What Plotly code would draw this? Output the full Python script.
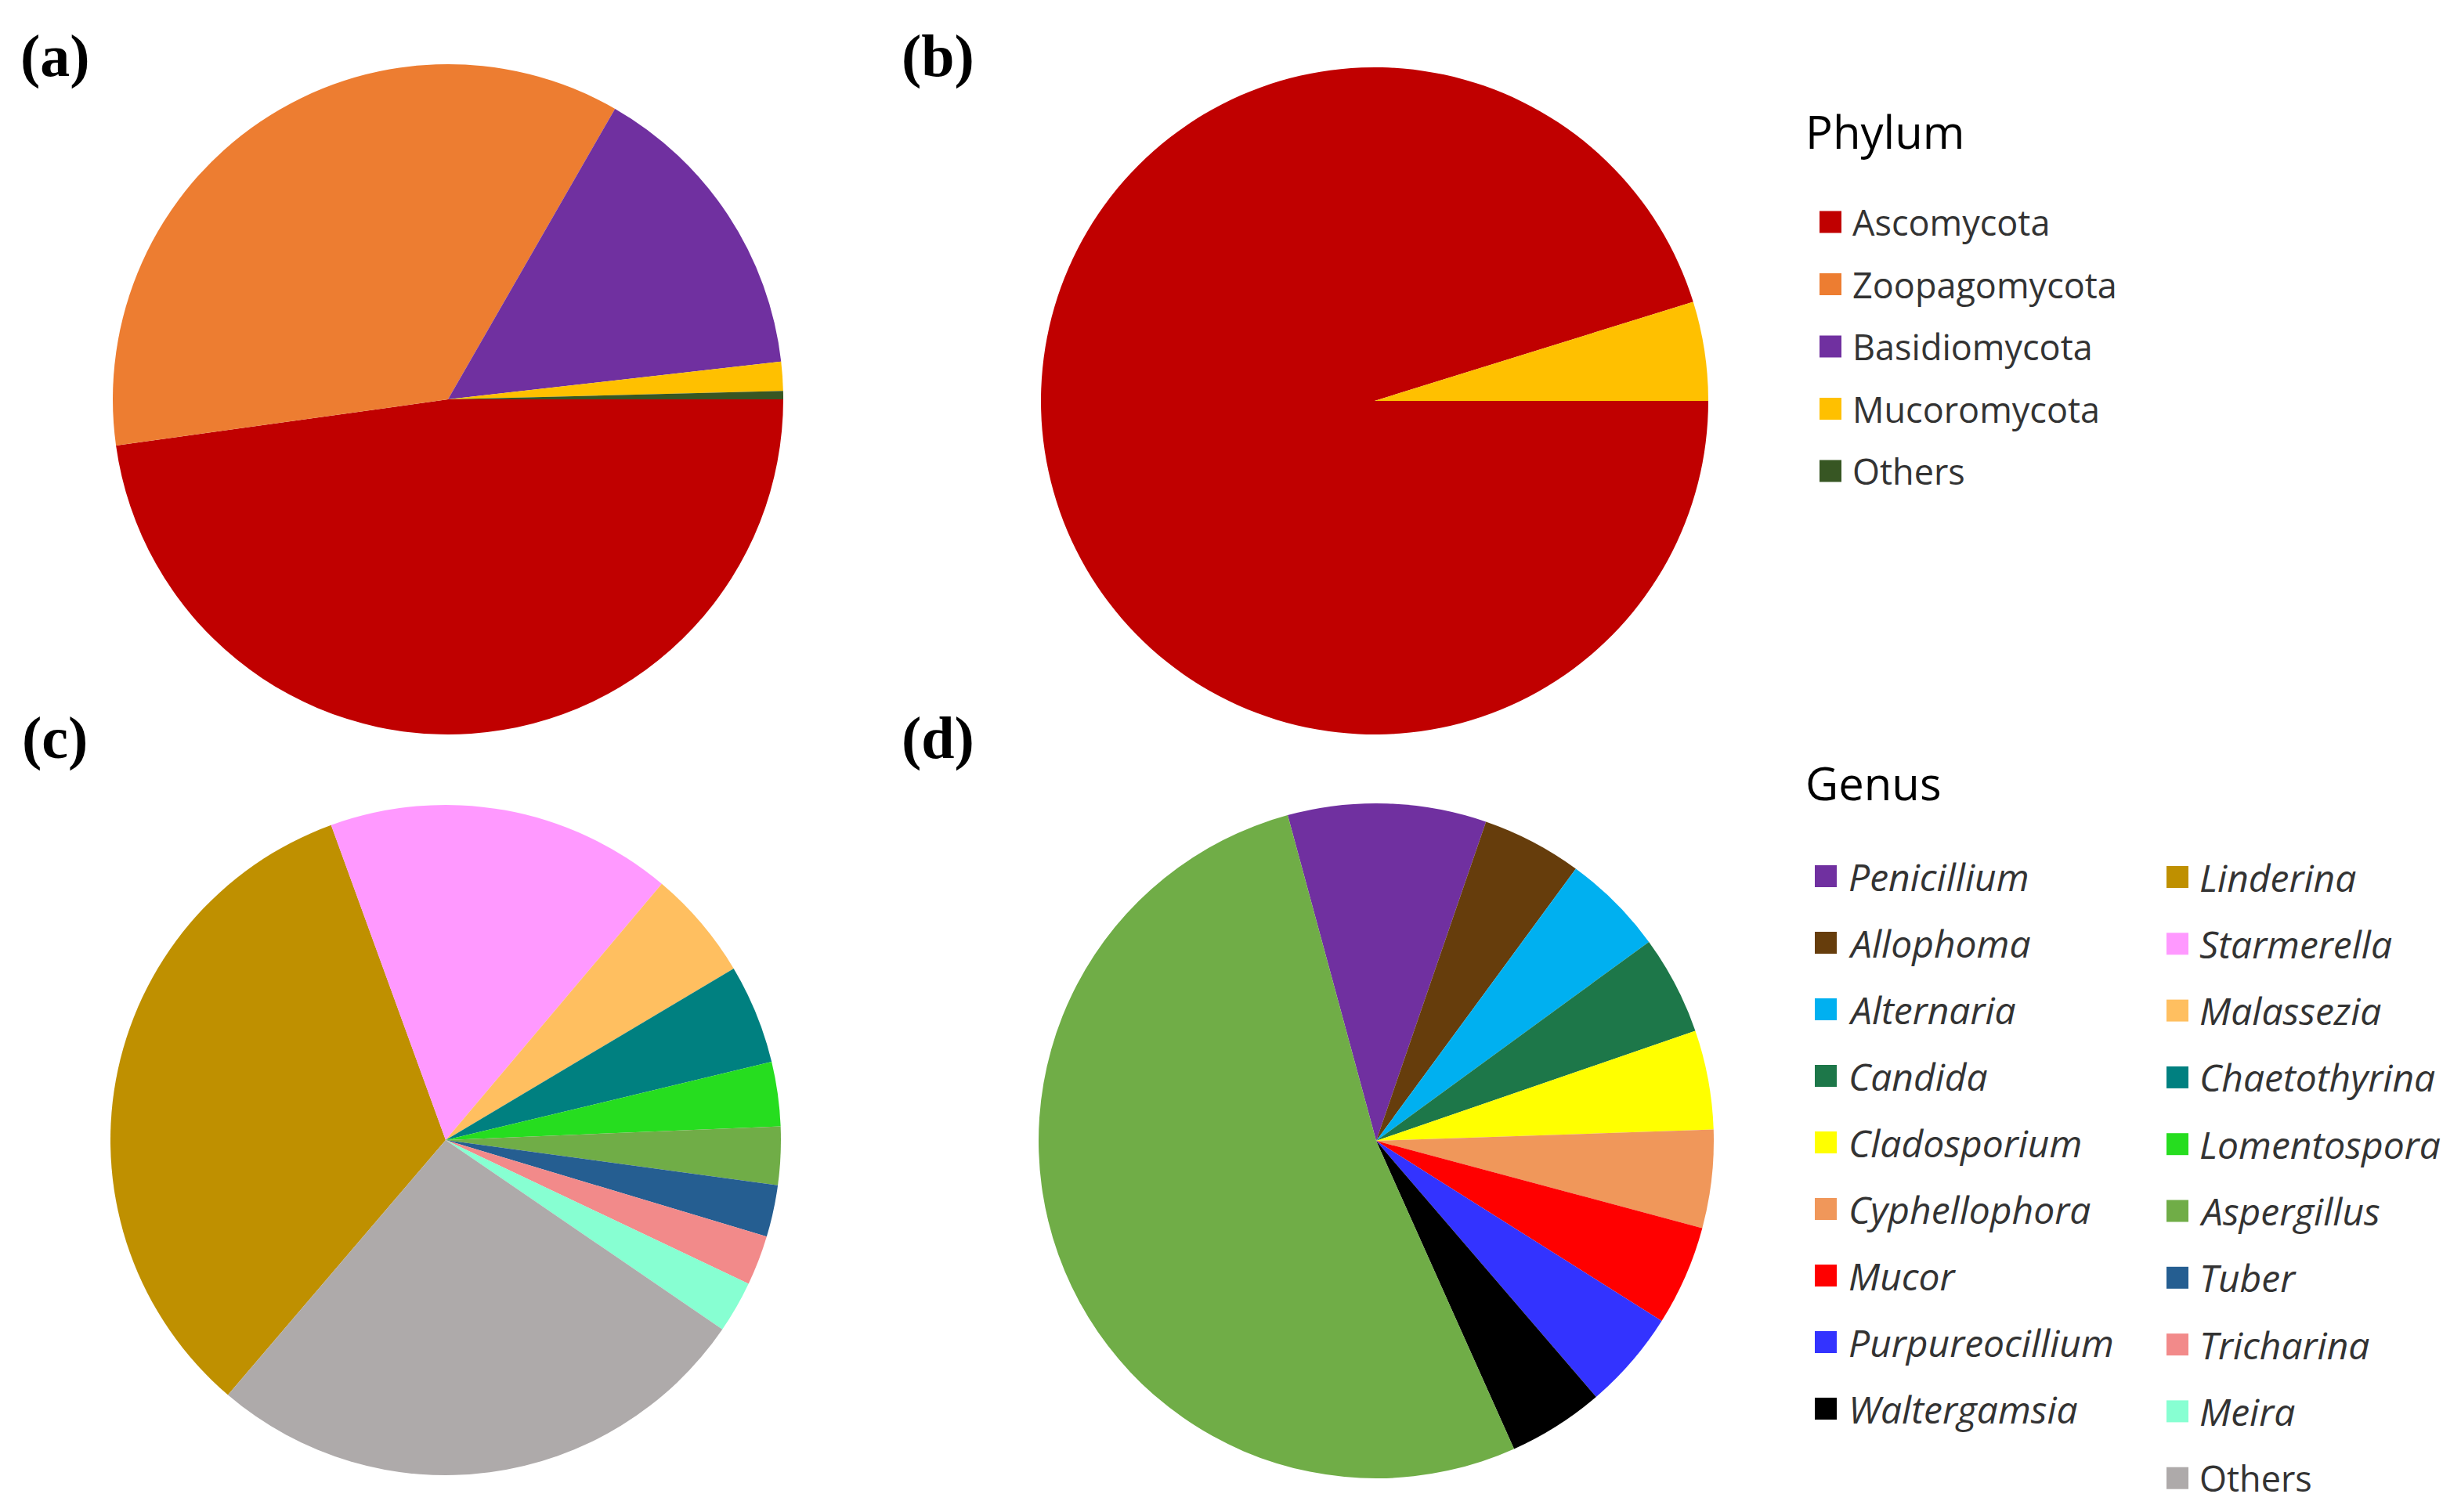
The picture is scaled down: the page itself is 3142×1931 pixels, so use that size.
import plotly.graph_objects as go

W, H = 3142, 1931

# ---------------- data ----------------
phylum_labels = ["Ascomycota", "Zoopagomycota", "Basidiomycota", "Mucoromycota", "Others"]
phylum_colors = ["#C00000", "#ED7D31", "#7030A0", "#FFC000", "#375623"]
phylum_a_values = [47.8, 35.5, 14.9, 1.4, 0.4]
phylum_b_values = [95.2, 0.0, 0.0, 4.8, 0.0]

genus_c_labels = ["Linderina", "Starmerella", "Malassezia", "Chaetothyrina", "Lomentospora",
                  "Aspergillus", "Tuber", "Tricharina", "Meira", "Others"]
genus_c_values = [33.2, 16.7, 5.3, 4.8, 3.1, 2.8, 2.5, 2.4, 2.5, 26.7]
genus_c_colors = ["#BF9000", "#FF99FF", "#FFBF60", "#008080", "#26DD1F",
                  "#70AD47", "#255E91", "#F28A8A", "#87FFD2", "#AEAAAA"]

genus_d_labels = ["Penicillium", "Allophoma", "Alternaria", "Candida", "Cladosporium",
                  "Cyphellophora", "Mucor", "Purpureocillium", "Waltergamsia", "Aspergillus"]
genus_d_values = [9.5, 4.8, 4.9, 4.75, 4.75, 4.7, 4.8, 4.75, 4.6, 52.5]
genus_d_colors = ["#7030A0", "#663D0C", "#00B0F0", "#1D7749", "#FFFF00",
                  "#F0975A", "#FF0000", "#3333FF", "#000000", "#70AD47"]

panel_labels = ["(a)", "(b)", "(c)", "(d)"]

# ---------------- geometry helpers ----------------
def px(x):
    return x / W


def py(y):
    return 1 - y / H


def domain(cx, cy, r):
    return dict(x=[px(cx - r), px(cx + r)], y=[py(cy + r), py(cy - r)])


fig = go.Figure()

pies = [
    (phylum_labels, phylum_a_values, phylum_colors, 90, (572, 510, 428)),
    (phylum_labels, phylum_b_values, phylum_colors, 90, (1755, 512, 426)),
    (genus_c_labels, genus_c_values, genus_c_colors, -139.5, (569, 1456, 428)),
    (genus_d_labels, genus_d_values, genus_d_colors, -15.2, (1757, 1457, 431)),
]

for labels, values, colors, rot, (cx, cy, r) in pies:
    fig.add_trace(go.Pie(
        labels=labels, values=values, sort=False, direction="clockwise",
        rotation=rot, textinfo="none", showlegend=False,
        marker=dict(colors=colors, line=dict(width=0)),
        domain=domain(cx, cy, r),
    ))

annotations = []
shapes = []

# panel letters
for lab, (x, y) in zip(panel_labels, [(70, 72), (1197, 72), (70, 942), (1197, 942)]):
    annotations.append(dict(
        text="<b>%s</b>" % lab, x=px(x), y=py(y), xref="paper", yref="paper",
        xanchor="center", yanchor="middle", showarrow=False,
        font=dict(family="Liberation Serif", size=76, color="#000000")))

TITLE_FONT = dict(family="Open Sans", size=58, color="#000000")
ITEM_FONT = dict(family="Open Sans", size=45, color="#333333")
ITALIC_FONT = dict(family="Open Sans", size=48, color="#333333", style="italic")


def legend_item(label, color, sq_x, text_x, y, italic=False, sq=28):
    shapes.append(dict(type="rect", xref="paper", yref="paper",
                       x0=px(sq_x), x1=px(sq_x + sq), y0=py(y + sq / 2), y1=py(y - sq / 2),
                       fillcolor=color, line=dict(width=0)))
    annotations.append(dict(text=label, x=px(text_x), y=py(y), xref="paper", yref="paper",
                            xanchor="left", yanchor="middle", showarrow=False,
                            font=ITALIC_FONT if italic else ITEM_FONT))


# Phylum legend
annotations.append(dict(text="Phylum", x=px(2303), y=py(168), xref="paper", yref="paper",
                        xanchor="left", yanchor="middle", showarrow=False, font=TITLE_FONT))
for i, (lab, col) in enumerate(zip(phylum_labels, phylum_colors)):
    legend_item(lab, col, 2323, 2363, 283.5 + i * 79.5)

# Genus legend
annotations.append(dict(text="Genus", x=px(2303), y=py(1000), xref="paper", yref="paper",
                        xanchor="left", yanchor="middle", showarrow=False, font=TITLE_FONT))
for i, (lab, col) in enumerate(zip(genus_d_labels[:9], genus_d_colors[:9])):
    legend_item(lab, col, 2317, 2358, 1119 + i * 85, italic=True)
for i, (lab, col) in enumerate(zip(genus_c_labels, genus_c_colors)):
    legend_item(lab, col, 2766, 2806, 1120 + i * 85.3, italic=(lab != "Others"))

fig.update_layout(
    width=W, height=H, margin=dict(l=0, r=0, t=0, b=0),
    paper_bgcolor="#FFFFFF", plot_bgcolor="#FFFFFF",
    annotations=annotations, shapes=shapes,
)

fig.write_html("out.html")
